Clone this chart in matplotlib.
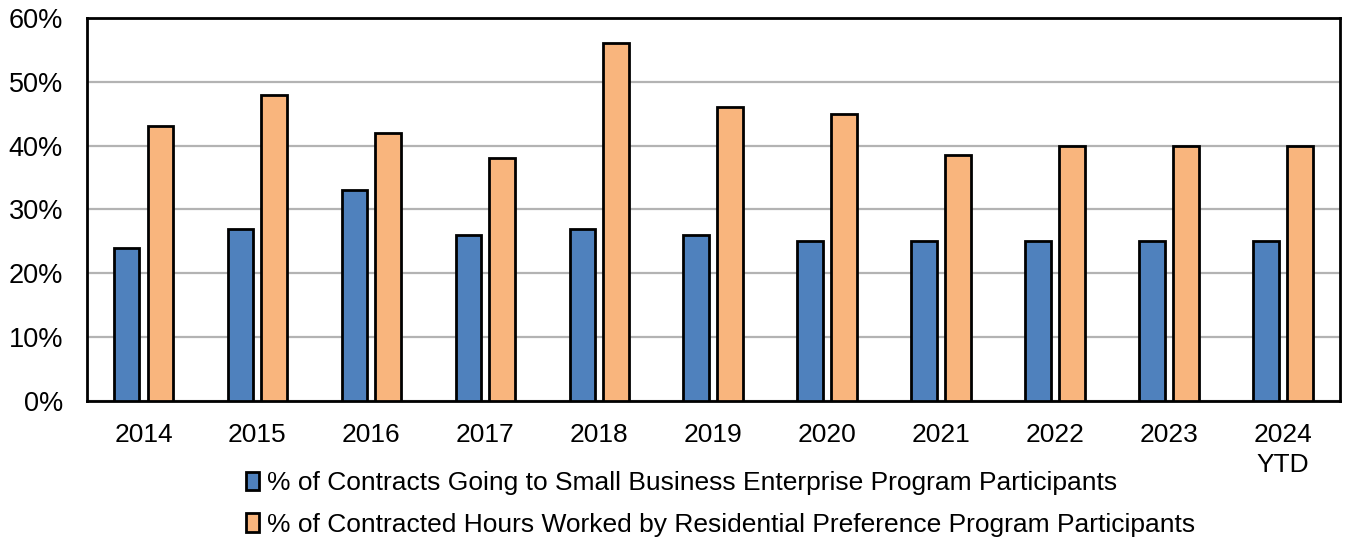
import matplotlib
matplotlib.use("Agg")
import matplotlib.pyplot as plt
import numpy as np
from matplotlib.ticker import PercentFormatter

plt.rcParams['font.family'] = ['Liberation Sans', 'DejaVu Sans']

years = ["2014", "2015", "2016", "2017", "2018", "2019", "2020", "2021", "2022", "2023", "2024\nYTD"]
sbe_contracts = [24, 27, 33, 26, 27, 26, 25, 25, 25, 25, 25]
rpp_hours = [43, 48, 42, 38, 56, 46, 45, 38.5, 40, 40, 40]
series_labels = [
    "% of Contracts Going to Small Business Enterprise Program Participants",
    "% of Contracted Hours Worked by Residential Preference Program Participants",
]

fig = plt.figure(figsize=(13.52, 5.42), dpi=100)
ax = fig.add_axes([0.064, 0.26, 0.927, 0.707])

x = np.arange(len(years))
w = 0.225
off = 0.148
ax.bar(x - off, sbe_contracts, w, color="#4F81BD", edgecolor="black", linewidth=2, zorder=3, label=series_labels[0])
ax.bar(x + off, rpp_hours, w, color="#F9B57D", edgecolor="black", linewidth=2, zorder=3, label=series_labels[1])

ax.set_xlim(-0.5, len(years) - 0.5)
ax.set_ylim(0, 60)
ax.set_yticks(np.arange(0, 61, 10))
ax.yaxis.set_major_formatter(PercentFormatter(decimals=0))
ax.grid(axis="y", color="#b3b3b3", linewidth=1.6, zorder=0)
ax.set_xticks(x)
ax.set_xticklabels(years, fontsize=19, linespacing=1.3)
ax.tick_params(axis="y", labelsize=19.5, length=0, pad=17)
ax.tick_params(axis="x", length=0, pad=16)
for s in ax.spines.values():
    s.set_linewidth(2)
    s.set_color("black")

fig.legend(loc="upper center", bbox_to_anchor=(0.533, 0.131), ncol=1, frameon=False,
           fontsize=19, handlelength=0.5, handleheight=0.7, handletextpad=0.3,
           labelspacing=0.67, borderaxespad=0, borderpad=0)

fig.savefig("out.png", dpi=100)
